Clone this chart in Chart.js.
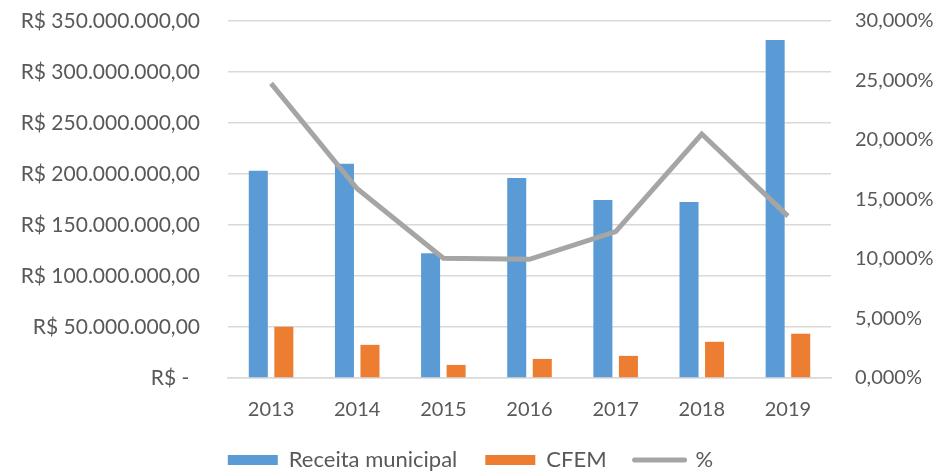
<!DOCTYPE html>
<html lang="pt-BR">
<head>
<meta charset="utf-8">
<title>Receita municipal x CFEM</title>
<script src="https://cdn.jsdelivr.net/npm/chart.js@4.4.1/dist/chart.umd.min.js"></script>
<style>
  html, body { margin: 0; padding: 0; background: #fff; overflow: hidden; }
  #box { width: 941px; height: 481px; }
</style>
</head>
<body>
<div id="box"><canvas id="grafico"></canvas></div>
<script>
// Dados
const anos = ['2013', '2014', '2015', '2016', '2017', '2018', '2019'];
const receitaMunicipal = [203100000, 210000000, 122300000, 196200000, 174500000, 172500000, 331300000];
const cfem = [50300000, 32500000, 12800000, 18700000, 21700000, 35500000, 43400000];
const percentual = [24.76, 15.9, 10.06, 9.97, 12.3, 20.5, 13.6];

const corTexto = '#595959';
const fonte = 'Lato';

// formata 350000000 -> "R$ 350.000.000,00"
function formataReais(v) {
    if (v === 0) return 'R$ -  ';
    const inteiro = Math.round(v).toString().replace(/\B(?=(\d{3})+(?!\d))/g, '.');
    return 'R$ ' + inteiro + ',00';
}

function formataPct(v) {
    return v.toFixed(3).replace('.', ',') + '%';
}

const ctx = document.getElementById('grafico').getContext('2d');

new Chart(ctx, {
    type: 'bar',
    data: {
        labels: anos,
        datasets: [
            {
                label: 'Receita municipal',
                data: receitaMunicipal,
                backgroundColor: '#5B9BD5',
                yAxisID: 'y',
                order: 1,
                categoryPercentage: 0.593,
                barPercentage: 0.745
            },
            {
                label: 'CFEM',
                data: cfem,
                backgroundColor: '#ED7D31',
                yAxisID: 'y',
                order: 1,
                categoryPercentage: 0.593,
                barPercentage: 0.745
            },
            {
                type: 'line',
                label: '%',
                data: percentual,
                borderColor: '#A5A5A5',
                backgroundColor: '#A5A5A5',
                borderWidth: 5,
                pointRadius: 0,
                tension: 0,
                yAxisID: 'y1',
                order: -1
            }
        ]
    },
    options: {
        responsive: true,
        maintainAspectRatio: false,
        animation: false,
        layout: { padding: { top: 21, bottom: 0, left: 0, right: 0 } },
        scales: {
            x: {
                grid: { display: false, drawTicks: false },
                border: { display: true, color: '#D9D9D9', width: 1.5 },
                ticks: { color: corTexto, font: { family: fonte, size: 20 }, padding: 20 },
                afterFit: (escala) => { escala.height = 43; }
            },
            y: {
                position: 'left',
                min: 0,
                max: 350000000,
                grid: { color: '#D9D9D9', lineWidth: 1.5, drawTicks: true, tickLength: 28, tickColor: 'rgba(0,0,0,0)' },
                border: { display: false },
                ticks: {
                    stepSize: 50000000,
                    color: corTexto,
                    padding: 0,
                    font: { family: fonte, size: 21 },
                    callback: (v) => formataReais(v)
                },
                afterFit: (escala) => { escala.width = 228; }
            },
            y1: {
                position: 'right',
                min: 0,
                max: 30,
                grid: { display: false, drawTicks: true, tickLength: 24 },
                border: { display: false },
                ticks: {
                    stepSize: 5,
                    color: corTexto,
                    padding: 0,
                    font: { family: fonte, size: 20 },
                    callback: (v) => formataPct(v)
                },
                afterFit: (escala) => { escala.width = 110; }
            }
        },
        plugins: {
            tooltip: { enabled: false },
            legend: {
                position: 'bottom',
                labels: {
                    color: corTexto,
                    font: { family: fonte, size: 22 },
                    usePointStyle: true,
                    pointStyleWidth: 50,
                    boxHeight: 10,
                    padding: 28,
                    sort: (a, b) => a.datasetIndex - b.datasetIndex,
                    generateLabels(chart) {
                        const itens = Chart.defaults.plugins.legend.labels.generateLabels(chart);
                        itens.forEach(item => {
                            const ds = chart.data.datasets[item.datasetIndex];
                            if (ds.type === 'line') {
                                item.pointStyle = 'line';
                                item.strokeStyle = ds.borderColor;
                                item.lineWidth = 5;
                                item.lineCap = 'round';
                            } else {
                                item.pointStyle = 'rect';
                                item.lineWidth = 0;
                            }
                        });
                        return itens;
                    }
                }
            }
        }
    }
});
</script>
</body>
</html>
